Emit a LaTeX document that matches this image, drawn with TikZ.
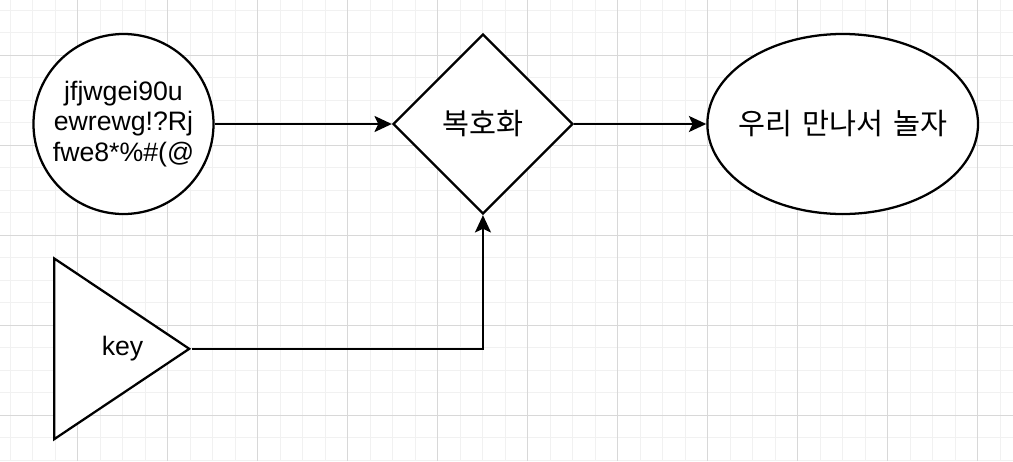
\documentclass[tikz,border=0pt]{standalone}
\usepackage{fontspec}
\setmainfont{Liberation Sans}
\newfontfamily\kofont[WordSpace=1.5]{Noto Sans CJK KR}
\usepackage{xcolor}
\usetikzlibrary{arrows.meta,positioning,shapes.geometric}
\definecolor{gridminor}{RGB}{241,241,241}
\definecolor{gridmajor}{RGB}{216,216,216}
\definecolor{inkblack}{RGB}{0,0,0}
\tikzset{
  minorline/.style={draw=gridminor,line width=0.75pt},
  majorline/.style={draw=gridmajor,line width=0.75pt},
  shapebox/.style={draw=inkblack,line width=1.7pt,fill=white,
    inner sep=0pt,align=center,font=\fontsize{20pt}{23pt}\selectfont},
  kotext/.style={font=\fontsize{22pt}{26pt}\selectfont\kofont},
  flow/.style={-{Stealth[length=13pt,width=12pt,inset=2.8pt]},
    line width=1.7pt,draw=inkblack}
}

\begin{document}
\begin{tikzpicture}[x=0.75pt,y=-0.75pt]
  \useasboundingbox (0,0) rectangle (1013,461);
  \fill[white] (0,0) rectangle (1013,461);
  % grid
  \foreach \gx in {10,32.5,...,1013} \draw[minorline] (\gx,0) -- (\gx,461);
  \foreach \gy in {10,32.5,...,461} \draw[minorline] (0,\gy) -- (1013,\gy);
  \foreach \gx in {77.5,167.5,...,1013} \draw[majorline] (\gx,0) -- (\gx,461);
  \foreach \gy in {55,145,...,461} \draw[majorline] (0,\gy) -- (1013,\gy);

  \node[shapebox,circle,minimum size=135pt] (cipher) at (123.5,124)
    {jfjwgei90u\\ewrewg!?Rj\\fwe8*\%\#(@};
  \node[shapebox,kotext,diamond,minimum width=135pt,minimum height=135pt,
    right=132.9pt of cipher] (decrypt) {복호화};
  \node[shapebox,kotext,ellipse,inner xsep=-12pt,minimum width=203pt,
    minimum height=135pt,right=99.1pt of decrypt] (plain) {우리 만나서 놀자};
  \node[shapebox,isosceles triangle,isosceles triangle stretches,
    minimum width=135.5pt,minimum height=101.25pt,
    label={[font=\fontsize{20pt}{23pt}\selectfont,xshift=15pt]center:key}]
    (key) at (102.5,348.8) {};

  \draw[flow] (cipher.east) -- (decrypt.west);
  \draw[flow] (decrypt.east) -- (plain.west);
  \draw[flow] (key.apex) -| (decrypt.south);
\end{tikzpicture}
\end{document}
